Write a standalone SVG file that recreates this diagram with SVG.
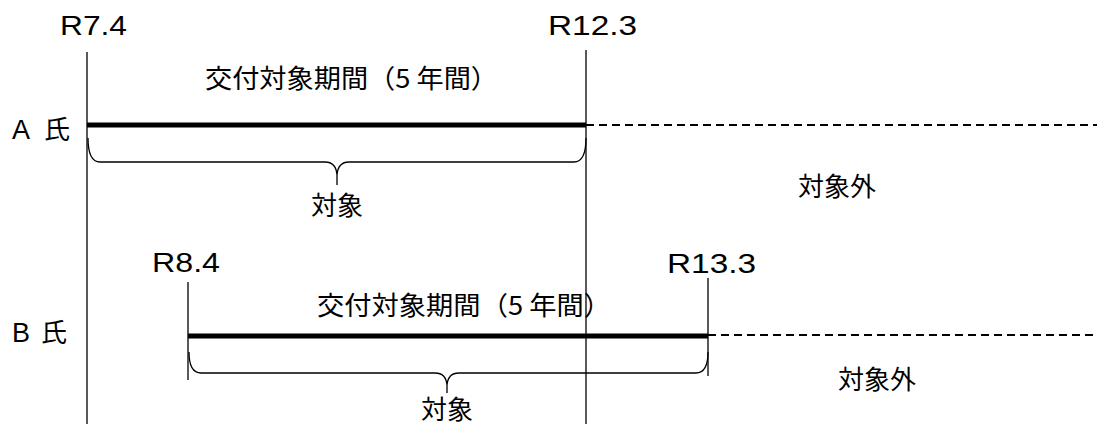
<svg xmlns="http://www.w3.org/2000/svg" width="1097" height="424" viewBox="0 0 1097 424">
<style>
  text { font-family: "Noto Sans CJK JP", "Noto Sans", sans-serif; fill: #000; }
  .date { font-family: "Liberation Sans", Arial, sans-serif; font-size: 28px; }
  .lat { font-family: "Liberation Sans", Arial, sans-serif; }
  .jp { font-size: 26px; }
  .who { font-size: 26px; }
  .thin { stroke: #000; stroke-width: 1.3; fill: none; }
  .thick { stroke: #000; stroke-width: 5; fill: none; }
  .dash { stroke: #000; stroke-width: 2; stroke-dasharray: 8 5; fill: none; }
  .brace { stroke: #000; stroke-width: 1.3; fill: none; }
</style>
<rect width="1097" height="424" fill="#fff"/>
<g id="connectors">
  <line class="thin" x1="87" y1="52" x2="87" y2="424"/>
  <line class="thin" x1="586" y1="50" x2="586" y2="424"/>
  <line class="thin" x1="188" y1="282" x2="188" y2="380"/>
  <line class="thin" x1="708" y1="278" x2="708" y2="376"/>
  <line class="thick" x1="87" y1="125" x2="586" y2="125"/>
  <line class="dash" x1="586" y1="125" x2="1097" y2="125"/>
  <line class="thick" x1="188" y1="336" x2="708" y2="336"/>
  <line class="dash" x1="708" y1="335" x2="1097" y2="335"/>
  <path class="brace" d="M88 138 Q88 162 100 162 L325 162 Q336 162 337 175 L337 185 M337 175 Q338 162 349 162 L574 162 Q586 162 586 138"/>
  <path class="brace" d="M189 352 Q189 373 201 373 L435 373 Q446 373 447 385 L447 393 M447 385 Q448 373 459 373 L696 373 Q708 373 708 352"/>
</g>
<g id="personA">
  <text class="who" x="12" y="139"><tspan class="lat" font-size="27">A</tspan><tspan x="44">氏</tspan></text>
  <text class="date" x="60" y="35" textLength="67" lengthAdjust="spacingAndGlyphs">R7.4</text>
  <text class="date" x="548" y="35" textLength="89" lengthAdjust="spacingAndGlyphs">R12.3</text>
  <text class="jp" x="205" y="88" textLength="293" lengthAdjust="spacingAndGlyphs">交付対象期間（5 年間）</text>
  <text class="jp" x="337" y="215" text-anchor="middle">対象</text>
  <text class="jp" x="798" y="196">対象外</text>
</g>
<g id="personB">
  <text class="who" x="12" y="342"><tspan class="lat" font-size="27">B</tspan><tspan x="41">氏</tspan></text>
  <text class="date" x="152" y="272" textLength="68" lengthAdjust="spacingAndGlyphs">R8.4</text>
  <text class="date" x="667" y="273" textLength="89" lengthAdjust="spacingAndGlyphs">R13.3</text>
  <text class="jp" x="317" y="315" textLength="294" lengthAdjust="spacingAndGlyphs">交付対象期間（5 年間）</text>
  <text class="jp" x="447" y="419" text-anchor="middle">対象</text>
  <text class="jp" x="838" y="389">対象外</text>
</g>
</svg>
